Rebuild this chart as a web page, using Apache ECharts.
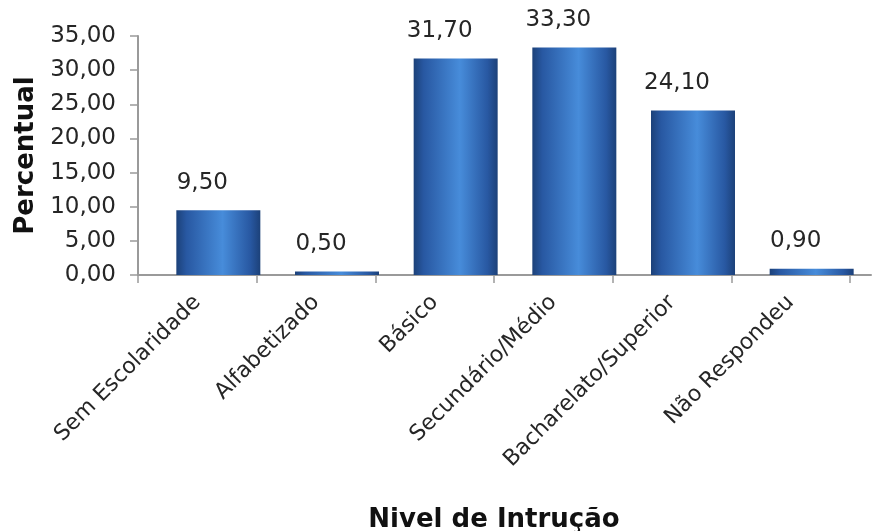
<!DOCTYPE html>
<html>
<head>
<meta charset="utf-8">
<script src="https://cdn.jsdelivr.net/npm/echarts@6/dist/echarts.min.js"></script>
<style>
html,body{margin:0;padding:0;background:#fff;}
#c{width:881px;height:531px;}
</style>
</head>
<body>
<div id="c"></div>
<script>
const categories = ['Sem Escolaridade','Alfabetizado','Básico','Secundário/Médio','Bacharelato/Superior','Não Respondeu'];
const values = [9.5, 0.5, 31.7, 33.3, 24.1, 0.9];
const yTicks = [0,5,10,15,20,25,30,35];
const xTitle = 'Nivel de Intrução';
const yTitle = 'Percentual';

const FONT = 'Verdana, "DejaVu Sans", sans-serif';
const fmt = v => Number(v).toFixed(2).replace('.', ',');
const chart = echarts.init(document.getElementById('c'), null, {renderer:'canvas'});
const barGrad = new echarts.graphic.LinearGradient(0,0,1,0,[
  {offset:0, color:'#1c4179'},
  {offset:0.12, color:'#2858a2'},
  {offset:0.55, color:'#478cda'},
  {offset:0.88, color:'#2858a2'},
  {offset:1, color:'#1c4179'}
]);
chart.setOption({
  animation:false,
  backgroundColor:'#fff',
  grid:[
    {left:138, right:31, top:36, bottom:256, containLabel:false, outerBoundsMode:'none'},
    {left:159, right:10, top:36, bottom:256, containLabel:false, outerBoundsMode:'none'}
  ],
  xAxis:[
    {type:'category', gridIndex:0, data:categories,
     axisLine:{lineStyle:{color:'#9a9a9a', width:2}},
     axisTick:{show:true, length:8, lineStyle:{color:'#9a9a9a', width:1.5}},
     axisLabel:{rotate:45, interval:0, margin:24, fontFamily:FONT, fontSize:22, color:'#262626'},
     name:xTitle, nameLocation:'middle', nameGap:232,
     nameTextStyle:{fontFamily:FONT, fontSize:26, fontWeight:'bold', color:'#111'}
    },
    {type:'category', gridIndex:1, data:categories,
     axisLine:{show:true, lineStyle:{color:'#9a9a9a', width:2}},
     axisTick:{show:false}, axisLabel:{show:false}
    }
  ],
  yAxis:[
    {type:'value', gridIndex:0, min:0, max:35, interval:5,
     axisLine:{show:true, lineStyle:{color:'#9a9a9a', width:2}},
     axisTick:{show:true, length:8, lineStyle:{color:'#9a9a9a', width:1.5}},
     splitLine:{show:false},
     axisLabel:{formatter:v=>yTicks.includes(v)?fmt(v):'', margin:22, fontFamily:FONT, fontSize:23, color:'#262626'},
     name:yTitle, nameLocation:'middle', nameGap:99, nameRotate:90,
     nameTextStyle:{fontFamily:FONT, fontSize:26, fontWeight:'bold', color:'#111'}
    },
    {type:'value', gridIndex:1, min:0, max:35, interval:5, show:false}
  ],
  series:[{
    type:'bar', xAxisIndex:1, yAxisIndex:1, data:values, barWidth:84,
    itemStyle:{color:barGrad},
    label:{show:true, position:'top', distance:16, offset:[-16,0], formatter:p=>fmt(p.value),
      fontFamily:FONT, fontSize:23, color:'#262626'}
  }]
});
</script>
</body>
</html>
